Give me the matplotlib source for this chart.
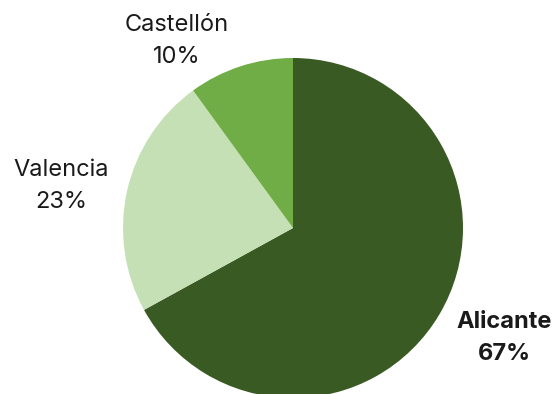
import matplotlib.pyplot as plt

provincias = ['Alicante', 'Valencia', 'Castellón']
porcentajes = [67, 23, 10]
colores = ['#3a5a24', '#c5e0b4', '#70ad47']

W, H = 556, 394
fig = plt.figure(figsize=(W / 100, H / 100), dpi=100)
# pie centre (293, 228) px, radius 170 px
cx, cy, r = 293, 228, 170
ax = fig.add_axes([(cx - r) / W, (H - cy - r) / H, 2 * r / W, 2 * r / H])
ax.pie(porcentajes, colors=colores, startangle=90, counterclock=False,
       radius=1, wedgeprops=dict(linewidth=0))
ax.set_xlim(-1, 1)
ax.set_ylim(-1, 1)
ax.set_aspect('equal')
ax.axis('off')

# label positions in pixels
pos = {'Alicante': (504, 338), 'Valencia': (61, 186), 'Castellón': (177, 41)}
for nombre, p in zip(provincias, porcentajes):
    px, py = pos[nombre]
    peso = 'bold' if nombre == 'Alicante' else 'normal'
    ax.text((px - cx) / r, (cy - py) / r, f'{nombre}\n{p}%', ha='center', va='center',
            fontsize=17, fontweight=peso, family='Inter', color='#1a1a1a',
            linespacing=1.6, clip_on=False)

fig.savefig('out.png', dpi=100)
